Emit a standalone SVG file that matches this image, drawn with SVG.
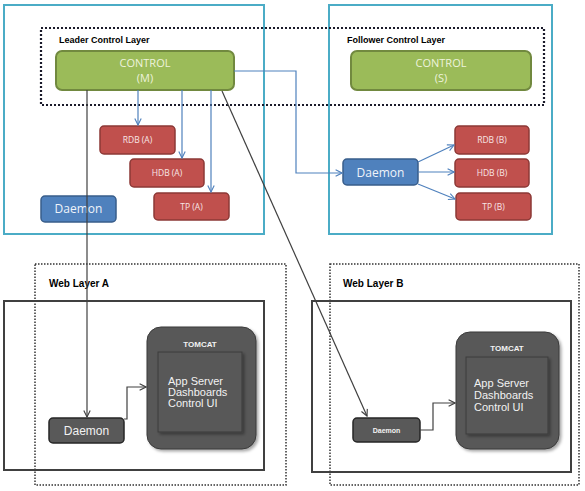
<svg xmlns="http://www.w3.org/2000/svg" width="585" height="491" viewBox="0 0 585 491">
<defs>
<style>
.layer{fill:none;stroke:#4BACC6;stroke-width:2}
.dots{fill:none;stroke:#1a1a2a;stroke-width:2.2;stroke-dasharray:2 2}
.dots2{fill:none;stroke:#333;stroke-width:1.5;stroke-dasharray:1.5 1.5}
.frame{fill:none;stroke:#404040;stroke-width:2}
.ctl{fill:#9BBB59;stroke:#71893F;stroke-width:2}
.red{fill:#C0504D;stroke:#8C3836;stroke-width:1.5}
.blue{fill:#4F81BD;stroke:#385D8A;stroke-width:1.5}
.dark{fill:#595959;stroke:#262626;stroke-width:1.5}
.tomcat{fill:#595959;stroke:#3a3a3a;stroke-width:1}
.inner{fill:#595959;stroke:#3d3d3d;stroke-width:1}
.lbl{font-family:"Liberation Sans",Arial,sans-serif;font-size:9px;font-weight:bold;fill:#000}
.wlbl{font-family:"Liberation Sans",Arial,sans-serif;font-size:10px;font-weight:bold;fill:#000}
.ctxt{font-family:"Open Sans","Liberation Sans",sans-serif;font-size:11px;fill:#EEF3DC;text-anchor:middle}
.rtxt{font-family:"Open Sans","Liberation Sans",sans-serif;font-size:8.5px;fill:#F8E6E6;text-anchor:middle}
.btxt{font-family:"Open Sans","Liberation Sans",sans-serif;font-size:12px;fill:#F0F4FA;text-anchor:middle}
.dtxt{font-family:"Liberation Sans",Arial,sans-serif;font-size:12px;fill:#F2F2F2;text-anchor:middle}
.tt{font-family:"Liberation Sans",Arial,sans-serif;font-size:8px;font-weight:bold;fill:#F2F2F2;text-anchor:middle}
.at{font-family:"Liberation Sans",Arial,sans-serif;font-size:11px;fill:#F2F2F2}
.bl{fill:none;stroke:#4F81BD;stroke-width:1.2;marker-end:url(#ab)}
.gl{fill:none;stroke:#404040;stroke-width:1.2;marker-end:url(#ag)}
</style>
<marker id="ab" viewBox="0 0 10 10" refX="9" refY="5" markerWidth="8" markerHeight="8" markerUnits="userSpaceOnUse" orient="auto"><path d="M1,1 L9,5 L1,9" fill="none" stroke="#4F81BD" stroke-width="1.4"/></marker>
<marker id="ag" viewBox="0 0 10 10" refX="9" refY="5" markerWidth="8" markerHeight="8" markerUnits="userSpaceOnUse" orient="auto"><path d="M1,1 L9,5 L1,9" fill="none" stroke="#404040" stroke-width="1.4"/></marker>
<filter id="sh" x="-10%" y="-10%" width="130%" height="130%"><feDropShadow dx="2" dy="2" stdDeviation="1.5" flood-color="#000" flood-opacity="0.35"/></filter>
</defs>
<rect width="585" height="491" fill="#fff"/>
<g id="leader-layer"><rect class="layer" x="4" y="5" width="260" height="229"/></g>
<g id="follower-layer"><rect class="layer" x="329" y="5" width="223" height="229"/></g>
<g id="control-layer"><rect class="dots" x="41" y="28" width="503" height="77"/>
<text class="lbl" x="59" y="43">Leader Control Layer</text>
<text class="lbl" x="347" y="43">Follower Control Layer</text></g>
<g id="web-layer-a"><rect class="dots2" x="35" y="264" width="251" height="221"/><rect class="frame" x="4" y="301" width="260" height="169"/><text class="wlbl" x="49" y="287">Web Layer A</text></g>
<g id="web-layer-b"><rect class="dots2" x="330" y="264" width="249" height="221"/><rect class="frame" x="312" y="301" width="259" height="171"/><text class="wlbl" x="343" y="287">Web Layer B</text></g>
<g id="control-m"><rect class="ctl" x="56" y="51" width="178" height="39" rx="6"/><text class="ctxt" x="145" y="67">CONTROL</text><text class="ctxt" x="145" y="82">(M)</text></g>
<g id="control-s"><rect class="ctl" x="351" y="51" width="180" height="39" rx="6"/><text class="ctxt" x="441" y="67">CONTROL</text><text class="ctxt" x="441" y="82">(S)</text></g>
<g id="rdb-a"><rect class="red" x="100" y="126" width="75" height="28" rx="4"/><text class="rtxt" x="137.5" y="143">RDB (A)</text></g>
<g id="hdb-a"><rect class="red" x="130" y="159" width="74" height="28" rx="4"/><text class="rtxt" x="167" y="176">HDB (A)</text></g>
<g id="tp-a"><rect class="red" x="154" y="193" width="75" height="27" rx="4"/><text class="rtxt" x="191.5" y="210">TP (A)</text></g>
<g id="daemon-a-ctl"><rect class="blue" x="41" y="196" width="75" height="26" rx="4"/><text class="btxt" x="78.5" y="213">Daemon</text></g>
<g id="daemon-b-ctl"><rect class="blue" x="343" y="159" width="75" height="26" rx="4"/><text class="btxt" x="380.5" y="177">Daemon</text></g>
<g id="rdb-b"><rect class="red" x="455" y="126" width="74" height="28" rx="4"/><text class="rtxt" x="492" y="143">RDB (B)</text></g>
<g id="hdb-b"><rect class="red" x="455" y="159" width="74" height="28" rx="4"/><text class="rtxt" x="492" y="176">HDB (B)</text></g>
<g id="tp-b"><rect class="red" x="456" y="193" width="75" height="27" rx="4"/><text class="rtxt" x="493.5" y="210">TP (B)</text></g>
<g id="tomcat-a"><rect class="tomcat" x="147" y="327" width="109" height="122" rx="14" filter="url(#sh)"/><rect class="inner" x="158" y="352" width="84" height="80" filter="url(#sh)"/><text class="tt" x="200" y="347">TOMCAT</text><text class="at" x="168" y="385">App Server</text><text class="at" x="168" y="396">Dashboards</text><text class="at" x="168" y="407">Control UI</text></g>
<g id="tomcat-b"><rect class="tomcat" x="456" y="332" width="103" height="117" rx="14" filter="url(#sh)"/><rect class="inner" x="466" y="357" width="82" height="77" filter="url(#sh)"/><text class="tt" x="507" y="351">TOMCAT</text><text class="at" x="474" y="387">App Server</text><text class="at" x="474" y="399">Dashboards</text><text class="at" x="474" y="411">Control UI</text></g>
<g id="daemon-a-web"><rect class="dark" x="49" y="418" width="75" height="25" rx="4"/><text class="dtxt" x="86.5" y="435">Daemon</text></g>
<g id="daemon-b-web"><rect class="dark" x="353" y="418" width="67" height="24" rx="4"/><text class="tt" x="386.5" y="433" style="font-size:7px">Daemon</text></g>
<g id="connectors">
<path class="bl" d="M138,90 V125"/>
<path class="bl" d="M182,90 V158"/>
<path class="bl" d="M211,90 V192"/>
<path class="bl" d="M234,71 H296 V173 H342"/>
<path class="bl" d="M418,162 L454,145"/>
<path class="bl" d="M418,172 H454"/>
<path class="bl" d="M418,184 L455,199"/>
<path class="gl" d="M87,90 V417"/>
<path class="gl" d="M222,91 L367,416"/>
<path class="gl" d="M124,419 H127 V387 H146"/>
<path class="gl" d="M420,430 H433 V403 H455"/>
</g>
</svg>
